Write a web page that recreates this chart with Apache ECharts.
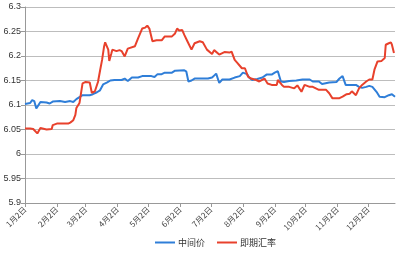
<!DOCTYPE html>
<html>
<head>
<meta charset="utf-8">
<script src="https://cdn.jsdelivr.net/npm/echarts@6/dist/echarts.min.js"></script>
<style>html,body{margin:0;padding:0;background:#fff}#c{width:400px;height:258px}</style>
</head>
<body>
<div id="c"></div>
<script>
// Days counted from 2 January
var tickDays = [0, 31, 59, 90, 120, 151, 181, 212, 243, 273, 304, 334];
var tickLabels = ['1月2日','2月2日','3月2日','4月2日','5月2日','6月2日','7月2日','8月2日','9月2日','10月2日','11月2日','12月2日'];
var yTicks = [5.9, 5.95, 6, 6.05, 6.1, 6.15, 6.2, 6.25, 6.3];

var midDays = [0,5,7,9,11,15,21,24,27,34,39,44,47,50,53,56,63,66,70,73,76,80,83,87,94,97,100,104,110,114,123,126,129,133,136,143,146,155,157,159,162,165,178,182,184,186,189,192,199,204,209,212,216,218,221,226,231,235,240,243,246,249,252,257,264,270,277,280,286,289,296,303,306,309,312,316,322,325,328,332,335,338,342,345,350,354,357,360];
var midValues = [6.102,6.104,6.110,6.108,6.093,6.106,6.105,6.103,6.107,6.108,6.106,6.108,6.106,6.112,6.116,6.120,6.120,6.122,6.126,6.130,6.142,6.146,6.150,6.151,6.151,6.154,6.149,6.156,6.156,6.159,6.159,6.157,6.163,6.163,6.166,6.166,6.170,6.171,6.168,6.148,6.150,6.154,6.154,6.156,6.160,6.164,6.145,6.152,6.152,6.156,6.159,6.166,6.163,6.156,6.151,6.153,6.156,6.162,6.162,6.166,6.169,6.148,6.147,6.149,6.150,6.152,6.152,6.148,6.148,6.143,6.146,6.147,6.154,6.159,6.141,6.141,6.141,6.137,6.135,6.137,6.139,6.137,6.127,6.117,6.116,6.120,6.122,6.117];

var fwdDays = [0,5,8,12,15,17,21,26,27,31,42,44,47,49,50,53,56,59,63,65,68,71,73,75,77,78,81,82,84,85,89,92,94,97,100,107,110,114,117,119,121,124,128,133,136,143,146,148,150,153,155,158,162,165,170,173,177,182,184,189,194,199,201,204,207,211,214,217,220,225,228,233,236,240,245,246,250,252,257,262,265,269,272,277,280,283,286,293,296,299,306,309,313,316,318,322,325,328,332,335,338,340,343,347,350,351,354,356,357,359];
var fwdValues = [6.052,6.052,6.051,6.042,6.053,6.052,6.050,6.051,6.059,6.062,6.062,6.064,6.069,6.080,6.094,6.104,6.144,6.147,6.146,6.125,6.128,6.147,6.170,6.192,6.220,6.228,6.213,6.190,6.205,6.213,6.210,6.212,6.210,6.199,6.215,6.220,6.236,6.256,6.258,6.262,6.256,6.230,6.232,6.232,6.240,6.240,6.246,6.256,6.252,6.253,6.243,6.230,6.213,6.226,6.230,6.228,6.213,6.204,6.212,6.203,6.208,6.207,6.209,6.192,6.185,6.175,6.175,6.158,6.154,6.151,6.148,6.154,6.144,6.141,6.141,6.151,6.141,6.137,6.137,6.134,6.140,6.127,6.141,6.137,6.137,6.134,6.131,6.131,6.124,6.114,6.114,6.117,6.122,6.123,6.128,6.120,6.134,6.141,6.148,6.152,6.152,6.172,6.189,6.190,6.196,6.223,6.226,6.228,6.223,6.206];

function pairs(d, v) { return d.map(function (x, i) { return [x, v[i]]; }); }

var chart = echarts.init(document.getElementById('c'), null, {renderer: 'canvas'});
chart.setOption({
  animation: false,
  backgroundColor: '#fff',
  grid: {left: 25, right: 5, top: 7, bottom: 55, containLabel: false},
  legend: {
    bottom: 6, left: 150, itemGap: 12, itemWidth: 20, itemHeight: 2,
    icon: 'rect',
    textStyle: {fontSize: 9, color: '#333', fontFamily: 'Noto Sans CJK SC', padding: [0, 0, 0, -2]},
    data: ['中间价', '即期汇率']
  },
  xAxis: {
    type: 'value', min: 0, max: 360,
    splitLine: {show: false},
    axisLine: {lineStyle: {color: '#999'}},
    axisTick: {show: true, length: 4, customValues: tickDays, lineStyle: {color: '#999'}},
    axisLabel: {
      customValues: tickDays, rotate: 45, fontSize: 8, color: '#444', margin: 5,
      fontFamily: 'Noto Sans CJK SC',
      formatter: function (v) { var i = tickDays.indexOf(v); return i >= 0 ? tickLabels[i] : ''; }
    }
  },
  yAxis: {
    type: 'value', min: 5.9, max: 6.3, interval: 0.05,
    axisLine: {show: true, lineStyle: {color: '#999'}},
    axisTick: {show: true, length: 4, lineStyle: {color: '#999'}},
    splitLine: {lineStyle: {color: '#bdbdbd'}},
    axisLabel: {
      fontSize: 9, color: '#333', margin: 4, fontFamily: 'Liberation Sans',
      formatter: function (v) { return String(+v.toFixed(2)); }
    }
  },
  series: [
    {name: '中间价', type: 'line', symbol: 'none', data: pairs(midDays, midValues),
     lineStyle: {color: '#2f7ed8', width: 2}, itemStyle: {color: '#2f7ed8'}},
    {name: '即期汇率', type: 'line', symbol: 'none', data: pairs(fwdDays, fwdValues),
     lineStyle: {color: '#e8412c', width: 2}, itemStyle: {color: '#e8412c'}}
  ]
});
</script>
</body>
</html>
